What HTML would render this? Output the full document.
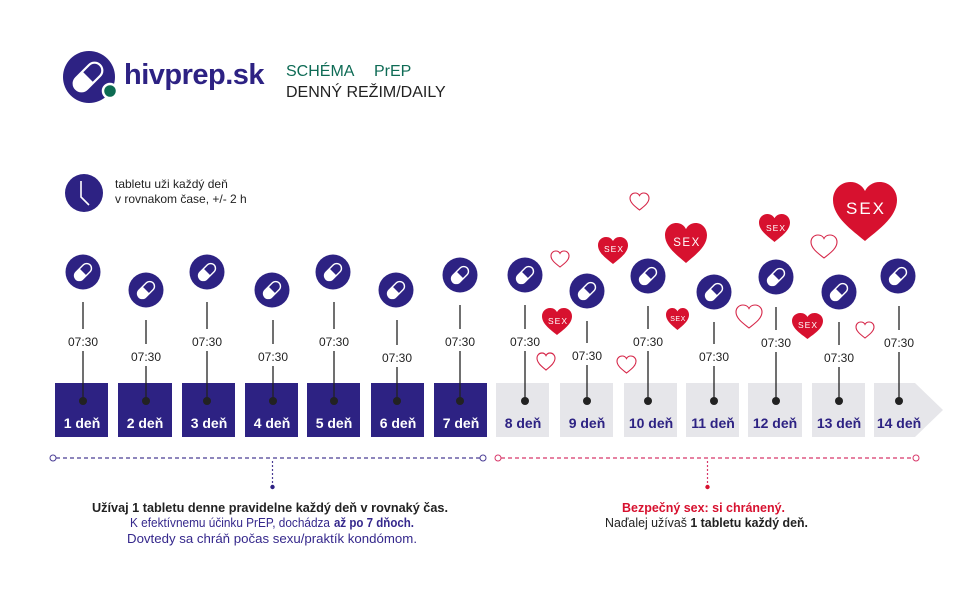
<!DOCTYPE html>
<html><head><meta charset="utf-8"><style>
html,body{margin:0;padding:0;background:#fff;}
svg{display:block;}
text{font-family:"Liberation Sans",sans-serif;}
</style></head><body>
<svg width="972" height="600" viewBox="0 0 972 600" xmlns="http://www.w3.org/2000/svg">
<defs>
<g id="pill">
<circle r="17.5" fill="#2d2283"/>
<g transform="rotate(-45)">
<rect x="-10" y="-4.8" width="20" height="9.6" rx="4.8" fill="none" stroke="#fff" stroke-width="1.4"/>
<path d="M0,-4.8 H-5.2 A4.8,4.8 0 0 0 -5.2,4.8 H0 Z" fill="#fff"/>
</g>
</g>
<path id="hp" d="M50,92 C30,75 0,55 0,28 C0,12 12,0 27,0 C38,0 46,6 50,14 C54,6 62,0 73,0 C88,0 100,12 100,28 C100,55 70,75 50,92 Z"/>
</defs>
<rect width="972" height="600" fill="#fff"/>

<!-- Logo -->
<circle cx="89" cy="77" r="26" fill="#2d2283"/>
<g transform="translate(88,77) rotate(-45)">
<rect x="-17" y="-7.8" width="34" height="15.6" rx="7.8" fill="none" stroke="#fff" stroke-width="2.2"/>
<path d="M0,-7.8 H-9.2 A7.8,7.8 0 0 0 -9.2,7.8 H0 Z" fill="#fff"/>
</g>
<circle cx="110" cy="91" r="7" fill="#0d6b52" stroke="#fff" stroke-width="2.5"/>
<text x="124" y="84" font-size="29" font-weight="bold" fill="#2d2283" letter-spacing="-0.5">hivprep.sk</text>
<text x="286" y="76" font-size="16" fill="#0e6b55">SCHÉMA</text>
<text x="374" y="76" font-size="16" fill="#0e6b55">PrEP</text>
<text x="286" y="97" font-size="16" fill="#222">DENNÝ REŽIM/DAILY</text>

<!-- Clock -->
<circle cx="84" cy="193" r="19" fill="#2d2283"/>
<polyline points="81,181 81,197 89,205" fill="none" stroke="#fff" stroke-width="1.6"/>
<text x="115" y="188" font-size="12" fill="#222">tabletu uži každý deň</text>
<text x="115" y="203" font-size="12" fill="#222">v rovnakom čase, +/- 2 h</text>

<!-- Boxes -->
<g fill="#2d2283">
<rect x="55" y="383" width="53" height="54"/>
<rect x="118" y="383" width="54" height="54"/>
<rect x="182" y="383" width="53" height="54"/>
<rect x="245" y="383" width="53" height="54"/>
<rect x="307" y="383" width="53" height="54"/>
<rect x="371" y="383" width="53" height="54"/>
<rect x="434" y="383" width="53" height="54"/>
</g>
<g fill="#e6e6ea">
<rect x="496" y="383" width="53" height="54"/>
<rect x="560" y="383" width="53" height="54"/>
<rect x="624" y="383" width="53" height="54"/>
<rect x="686" y="383" width="53" height="54"/>
<rect x="748" y="383" width="54" height="54"/>
<rect x="812" y="383" width="53" height="54"/>
<polygon points="874,383 915,383 943,410 915,437 874,437"/>
</g>
<g font-size="14" font-weight="bold" text-anchor="middle" fill="#fff">
<text x="82" y="428">1 deň</text>
<text x="145" y="428">2 deň</text>
<text x="209" y="428">3 deň</text>
<text x="272" y="428">4 deň</text>
<text x="334" y="428">5 deň</text>
<text x="398" y="428">6 deň</text>
<text x="461" y="428">7 deň</text>
</g>
<g font-size="14" font-weight="bold" text-anchor="middle" fill="#2d2283">
<text x="523" y="428">8 deň</text>
<text x="587" y="428">9 deň</text>
<text x="651" y="428">10 deň</text>
<text x="713" y="428">11 deň</text>
<text x="775" y="428">12 deň</text>
<text x="839" y="428">13 deň</text>
<text x="899" y="428">14 deň</text>
</g>

<!-- Stems, labels, dots -->
<g stroke="#222" stroke-width="1.3">
<line x1="83" y1="302" x2="83" y2="329"/><line x1="83" y1="351" x2="83" y2="401"/>
<line x1="146" y1="320" x2="146" y2="344"/><line x1="146" y1="366" x2="146" y2="401"/>
<line x1="207" y1="302" x2="207" y2="329"/><line x1="207" y1="351" x2="207" y2="401"/>
<line x1="273" y1="320" x2="273" y2="344"/><line x1="273" y1="366" x2="273" y2="401"/>
<line x1="334" y1="302" x2="334" y2="329"/><line x1="334" y1="351" x2="334" y2="401"/>
<line x1="397" y1="320" x2="397" y2="345"/><line x1="397" y1="367" x2="397" y2="401"/>
<line x1="460" y1="305" x2="460" y2="329"/><line x1="460" y1="351" x2="460" y2="401"/>
<line x1="525" y1="305" x2="525" y2="329"/><line x1="525" y1="351" x2="525" y2="401"/>
<line x1="587" y1="321" x2="587" y2="343"/><line x1="587" y1="365" x2="587" y2="401"/>
<line x1="648" y1="306" x2="648" y2="329"/><line x1="648" y1="351" x2="648" y2="401"/>
<line x1="714" y1="322" x2="714" y2="344"/><line x1="714" y1="366" x2="714" y2="401"/>
<line x1="776" y1="307" x2="776" y2="330"/><line x1="776" y1="352" x2="776" y2="401"/>
<line x1="839" y1="322" x2="839" y2="345"/><line x1="839" y1="367" x2="839" y2="401"/>
<line x1="899" y1="306" x2="899" y2="330"/><line x1="899" y1="352" x2="899" y2="401"/>
</g>
<g fill="#222">
<circle cx="83" cy="401" r="4"/><circle cx="146" cy="401" r="4"/><circle cx="207" cy="401" r="4"/>
<circle cx="273" cy="401" r="4"/><circle cx="334" cy="401" r="4"/><circle cx="397" cy="401" r="4"/>
<circle cx="460" cy="401" r="4"/><circle cx="525" cy="401" r="4"/><circle cx="587" cy="401" r="4"/>
<circle cx="648" cy="401" r="4"/><circle cx="714" cy="401" r="4"/><circle cx="776" cy="401" r="4"/>
<circle cx="839" cy="401" r="4"/><circle cx="899" cy="401" r="4"/>
</g>
<g font-size="12" text-anchor="middle" fill="#222">
<text x="83" y="346">07:30</text>
<text x="146" y="361">07:30</text>
<text x="207" y="346">07:30</text>
<text x="273" y="361">07:30</text>
<text x="334" y="346">07:30</text>
<text x="397" y="362">07:30</text>
<text x="460" y="346">07:30</text>
<text x="525" y="346">07:30</text>
<text x="587" y="360">07:30</text>
<text x="648" y="346">07:30</text>
<text x="714" y="361">07:30</text>
<text x="776" y="347">07:30</text>
<text x="839" y="362">07:30</text>
<text x="899" y="347">07:30</text>
</g>

<!-- Pills -->
<use href="#pill" x="83" y="272"/>
<use href="#pill" x="146" y="290"/>
<use href="#pill" x="207" y="272"/>
<use href="#pill" x="272" y="290"/>
<use href="#pill" x="333" y="272"/>
<use href="#pill" x="396" y="290"/>
<use href="#pill" x="460" y="275"/>
<use href="#pill" x="525" y="275"/>
<use href="#pill" x="587" y="291"/>
<use href="#pill" x="648" y="276"/>
<use href="#pill" x="714" y="292"/>
<use href="#pill" x="776" y="277"/>
<use href="#pill" x="839" y="292"/>
<use href="#pill" x="898" y="276"/>

<!-- Filled hearts -->
<g fill="#d7112f">
<use href="#hp" transform="translate(833,182) scale(0.64,0.641)"/>
<use href="#hp" transform="translate(665,223) scale(0.42,0.435)"/>
<use href="#hp" transform="translate(598,237) scale(0.30,0.293)"/>
<use href="#hp" transform="translate(759,214) scale(0.31,0.304)"/>
<use href="#hp" transform="translate(542,308) scale(0.30,0.293)"/>
<use href="#hp" transform="translate(666,308) scale(0.23,0.239)"/>
<use href="#hp" transform="translate(792,313) scale(0.31,0.283)"/>
</g>
<g fill="#fff" text-anchor="middle">
<text x="866" y="214" font-size="17" letter-spacing="2">SEX</text>
<text x="687" y="246" font-size="11.5" letter-spacing="1.5">SEX</text>
<text x="614" y="252" font-size="8.5" letter-spacing="1">SEX</text>
<text x="776" y="231" font-size="8.5" letter-spacing="1">SEX</text>
<text x="558" y="324" font-size="8.5" letter-spacing="1">SEX</text>
<text x="678" y="321" font-size="7" letter-spacing="0.5">SEX</text>
<text x="808" y="328" font-size="8.5" letter-spacing="1">SEX</text>
</g>
<!-- Outline hearts -->
<g fill="none" stroke="#d6284a">
<use href="#hp" stroke-width="5.8" transform="translate(630,193) scale(0.19,0.185)"/>
<use href="#hp" stroke-width="6.1" transform="translate(551,251) scale(0.18,0.174)"/>
<use href="#hp" stroke-width="4.3" transform="translate(811,235) scale(0.26,0.25)"/>
<use href="#hp" stroke-width="4.3" transform="translate(736,305) scale(0.26,0.25)"/>
<use href="#hp" stroke-width="6.1" transform="translate(856,322) scale(0.18,0.174)"/>
<use href="#hp" stroke-width="6.1" transform="translate(537,353) scale(0.18,0.185)"/>
<use href="#hp" stroke-width="5.8" transform="translate(617,356) scale(0.19,0.185)"/>
</g>

<!-- Dotted timelines -->
<line x1="56" y1="458" x2="480" y2="458" stroke="#4a3d95" stroke-width="1.2" stroke-dasharray="4,3"/>
<circle cx="53" cy="458" r="3" fill="#fff" stroke="#4a3d95" stroke-width="1"/>
<circle cx="483" cy="458" r="3" fill="#fff" stroke="#4a3d95" stroke-width="1"/>
<line x1="272.5" y1="461" x2="272.5" y2="484" stroke="#4a3d95" stroke-width="1.2" stroke-dasharray="2,2"/>
<circle cx="272.5" cy="487" r="2.2" fill="#2d2283"/>

<line x1="501" y1="458" x2="913" y2="458" stroke="#d8386a" stroke-width="1.2" stroke-dasharray="4,3"/>
<circle cx="498" cy="458" r="3" fill="#fff" stroke="#d8386a" stroke-width="1"/>
<circle cx="916" cy="458" r="3" fill="#fff" stroke="#d8386a" stroke-width="1"/>
<line x1="707.5" y1="461" x2="707.5" y2="484" stroke="#d8386a" stroke-width="1.2" stroke-dasharray="2,2"/>
<circle cx="707.5" cy="487" r="2.2" fill="#d7112f"/>

<!-- Bottom text -->
<text x="92" y="512" font-size="12.5" font-weight="bold" fill="#222" textLength="356" lengthAdjust="spacingAndGlyphs">Užívaj 1 tabletu denne pravidelne každý deň v rovnaký čas.</text>
<text x="130" y="527" font-size="12.5" fill="#35288c" textLength="200" lengthAdjust="spacingAndGlyphs">K efektívnemu účinku PrEP, dochádza</text>
<text x="334" y="527" font-size="12.5" font-weight="bold" fill="#35288c" textLength="80" lengthAdjust="spacingAndGlyphs">až po 7 dňoch.</text>
<text x="127" y="543" font-size="12.5" fill="#35288c" textLength="290" lengthAdjust="spacingAndGlyphs">Dovtedy sa chráň počas sexu/praktík kondómom.</text>

<text x="622" y="512" font-size="12.5" font-weight="bold" fill="#d7112f" textLength="163" lengthAdjust="spacingAndGlyphs">Bezpečný sex: si chránený.</text>
<text x="605" y="527" font-size="12.5" fill="#222" textLength="203" lengthAdjust="spacingAndGlyphs">Naďalej užívaš <tspan font-weight="bold">1 tabletu každý deň.</tspan></text>
</svg>
</body></html>
